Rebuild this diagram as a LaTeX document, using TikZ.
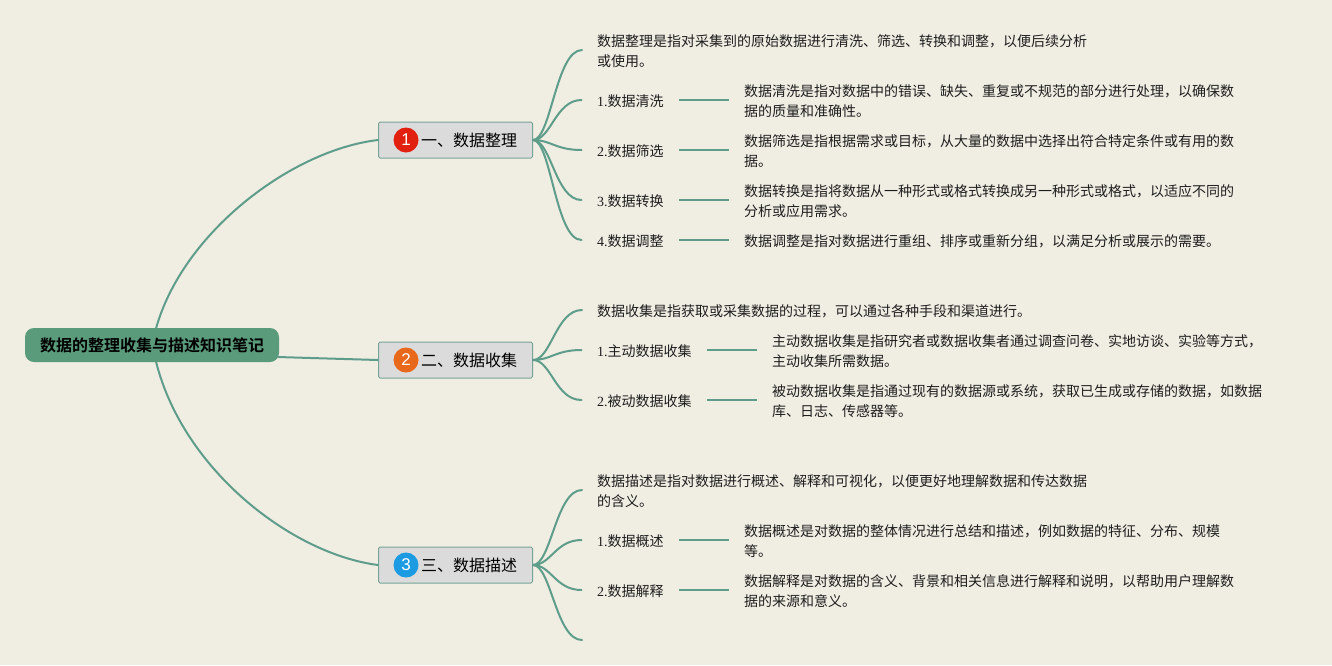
\documentclass[tikz,border=0pt]{standalone}
\usepackage{fontspec}
\setmainfont{Noto Sans CJK SC}[BoldFont={Noto Sans CJK SC Bold}]
\newfontfamily\latf{Liberation Serif}
\newfontfamily\badgef{Liberation Sans}
\definecolor{bgc}{HTML}{F0EDE3}
\definecolor{linkc}{HTML}{5F9D8B}
\definecolor{rootc}{HTML}{5A9B7C}
\definecolor{boxc}{HTML}{DBDBDB}
\definecolor{boxl}{HTML}{76A598}
\definecolor{bred}{HTML}{E1200F}
\definecolor{boran}{HTML}{E8691B}
\definecolor{bblue}{HTML}{1C9BE3}
\definecolor{inkc}{HTML}{1E1E1E}
\tikzset{
  rootbox/.style={draw=none,fill=rootc,rounded corners=9pt,minimum width=254pt,minimum height=34pt,inner sep=0pt,text=black,font=\fontsize{16}{18}\selectfont\bfseries},
  topicbox/.style={draw=boxl,line width=1pt,fill=boxc,rounded corners=1.5pt,minimum width=154pt,minimum height=36pt,inner sep=0pt,text=black,font=\fontsize{16}{20}\selectfont},
  badge/.style={circle,minimum size=25pt,inner sep=0pt,text=white,font=\badgef\fontsize{17}{18}\selectfont},
  bodytext/.style={anchor=west,align=left,inner xsep=15pt,inner ysep=0pt,yshift=-1.2pt,text=inkc,font=\fontsize{14}{20}\selectfont},
  itemtext/.style={anchor=west,align=left,inner xsep=15.5pt,inner ysep=0pt,yshift=-1.2pt,text=inkc,font=\fontsize{14}{20}\selectfont},
  curvelink/.style={draw=linkc,line width=2pt,line cap=round},
  straightlink/.style={draw=linkc,line width=2.3pt},
}
\newcommand{\nm}[1]{{\latf #1}}
\newcommand{\fc}{\char"FF0C\relax}
\newcommand{\branch}[2]{\draw[curvelink] (#1.east) .. controls +(18,0) and +(-26,0) .. ([yshift=1.2pt]#2.west);}
\newcommand{\straightl}[2]{\draw[straightlink] ([yshift=1.2pt]#1.east) -- ([yshift=1.2pt]#2.west);}
\begin{document}
\begin{tikzpicture}[x=1pt,y=-1pt]
\useasboundingbox (0,0) rectangle (1332,665);
\fill[bgc] (0,0) rectangle (1332,665);

% root and first-level connectors
\coordinate (roottop) at (156,328.5);
\coordinate (rootbot) at (156,361.5);
\coordinate (rootright) at (278,357);
\coordinate (e3) at (582,640);
\node[topicbox] (t1) at (455.5,140) {\hspace*{27pt}\raisebox{-2pt}{一、数据整理}};
\node[topicbox] (t2) at (455.5,360) {\hspace*{27pt}\raisebox{-2pt}{二、数据收集}};
\node[topicbox] (t3) at (455.5,565) {\hspace*{27pt}\raisebox{-2pt}{三、数据描述}};
\draw[curvelink] (roottop) .. controls (183,232) and (292,150) .. (t1.west);
\draw[curvelink] (rootright) .. controls (310,358) and (345,359) .. (t2.west);
\draw[curvelink] (rootbot) .. controls (183,470) and (292,554) .. (t3.west);
\node[rootbox] (root) at (152,345) {数据的整理收集与描述知识笔记};
\node[badge,fill=bred] (b1) at (406,140) {1};
\node[badge,fill=boran] (b2) at (406,360) {2};
\node[badge,fill=bblue] (b3) at (406,565) {3};

% section 1
\node[bodytext] (a0) at (582,50) {数据整理是指对采集到的原始数据进行清洗、筛选、转换和调整\fc{}以便后续分析\\或使用。};
\node[itemtext] (a1) at (581.5,100) {\nm{1.}数据清洗};
\node[itemtext] (a2) at (581.5,150) {\nm{2.}数据筛选};
\node[itemtext] (a3) at (581.5,200) {\nm{3.}数据转换};
\node[itemtext] (a4) at (581.5,240) {\nm{4.}数据调整};
\node[bodytext] (a1d) at (729,100) {数据清洗是指对数据中的错误、缺失、重复或不规范的部分进行处理\fc{}以确保数\\据的质量和准确性。};
\node[bodytext] (a2d) at (729,150) {数据筛选是指根据需求或目标\fc{}从大量的数据中选择出符合特定条件或有用的数\\据。};
\node[bodytext] (a3d) at (729,200) {数据转换是指将数据从一种形式或格式转换成另一种形式或格式\fc{}以适应不同的\\分析或应用需求。};
\node[bodytext] (a4d) at (729,240) {数据调整是指对数据进行重组、排序或重新分组\fc{}以满足分析或展示的需要。};
\branch{t1}{a0}
\branch{t1}{a1}
\branch{t1}{a2}
\branch{t1}{a3}
\branch{t1}{a4}
\straightl{a1}{a1d}
\straightl{a2}{a2d}
\straightl{a3}{a3d}
\straightl{a4}{a4d}

% section 2
\node[bodytext] (c0) at (582,310) {数据收集是指获取或采集数据的过程\fc{}可以通过各种手段和渠道进行。};
\node[itemtext] (c1) at (581.5,350) {\nm{1.}主动数据收集};
\node[itemtext] (c2) at (581.5,400) {\nm{2.}被动数据收集};
\node[bodytext] (c1d) at (757,350) {主动数据收集是指研究者或数据收集者通过调查问卷、实地访谈、实验等方式\fc{}\\主动收集所需数据。};
\node[bodytext] (c2d) at (757,400) {被动数据收集是指通过现有的数据源或系统\fc{}获取已生成或存储的数据\fc{}如数据\\库、日志、传感器等。};
\branch{t2}{c0}
\branch{t2}{c1}
\branch{t2}{c2}
\straightl{c1}{c1d}
\straightl{c2}{c2d}

% section 3
\node[bodytext] (e0) at (582,490) {数据描述是指对数据进行概述、解释和可视化\fc{}以便更好地理解数据和传达数据\\的含义。};
\node[itemtext] (e1) at (581.5,540) {\nm{1.}数据概述};
\node[itemtext] (e2) at (581.5,590) {\nm{2.}数据解释};
\node[bodytext] (e1d) at (729,540) {数据概述是对数据的整体情况进行总结和描述\fc{}例如数据的特征、分布、规模\\等。};
\node[bodytext] (e2d) at (729,590) {数据解释是对数据的含义、背景和相关信息进行解释和说明\fc{}以帮助用户理解数\\据的来源和意义。};
\branch{t3}{e0}
\branch{t3}{e1}
\branch{t3}{e2}
\draw[curvelink] (t3.east) .. controls +(18,0) and +(-26,0) .. (e3);
\straightl{e1}{e1d}
\straightl{e2}{e2d}
\end{tikzpicture}
\end{document}
